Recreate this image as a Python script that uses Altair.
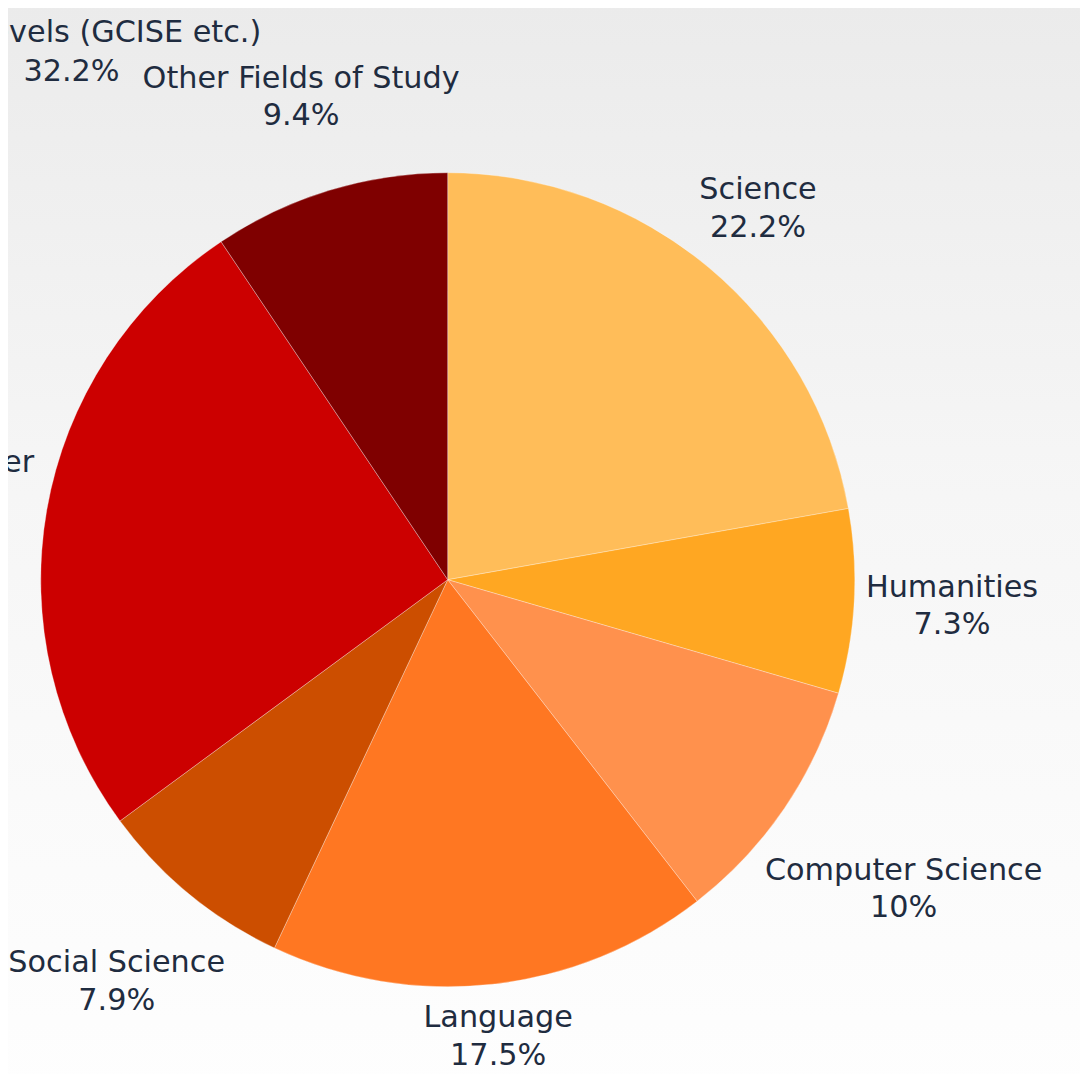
import altair as alt
import pandas as pd

# ---- data ----
categories = ["Science", "Humanities", "Computer Science", "Language",
              "Social Science", "Mathematics/Other", "Other Fields of Study"]
shares = [22.2, 7.3, 10, 17.5, 7.9, 25.7, 9.4]
colors = ["#FFBD59", "#FFA722", "#FF914D", "#FF7722", "#CC4E00", "#CC0000", "#7F0000"]
neighbour_label = ["Lower levels (GCISE etc.)", "32.2%"]

df = pd.DataFrame({
    "name": categories,
    "value": shares,
    "order": list(range(len(categories))),
    "pct": [f"{v:g}%" for v in shares],
})
df["label"] = df["name"] + "\n" + df["pct"]

TEXT = "#1F2C40"
FONT = "DejaVu Sans"
FS = 30.5
LH = 38

bg = alt.Chart(pd.DataFrame({"bg": [0]})).mark_rect(
    color=alt.Gradient(
        gradient="linear", x1=0, y1=0, x2=0, y2=1,
        stops=[alt.GradientStop(color="#EBEBEB", offset=0),
               alt.GradientStop(color="#F6F6F6", offset=0.45),
               alt.GradientStop(color="#FEFEFE", offset=1)],
    )
).encode(x=alt.value(0), x2=alt.value(1100), y=alt.value(0), y2=alt.value(1100))

base = alt.Chart(df)

pie = base.mark_arc(radius=410, stroke="#FFFFFF", strokeWidth=0.6, strokeOpacity=0.5).encode(
    theta=alt.Theta("value:Q", stack=True),
    color=alt.Color("name:N", scale=alt.Scale(domain=categories, range=colors), legend=None),
    order=alt.Order("order:Q"),
)

labels = (
    base.transform_joinaggregate(total="sum(value)")
    .transform_window(cum="sum(value)", sort=[alt.SortField("order")], frame=[None, 0])
    .transform_calculate(
        ang="2*PI*(datum.cum - datum.value/2)/datum.total",
        hw="max(length(datum.name), length(datum.pct)) * 8.7",
    )
    .transform_calculate(r="420 + datum.hw*abs(sin(datum.ang)) + 36*abs(cos(datum.ang))")
    .mark_text(fontSize=FS, font=FONT, color=TEXT, lineBreak="\n", lineHeight=LH,
               align="center", baseline="middle", dy=-LH / 2,
               radius=alt.ExprRef("datum.r"))
    .encode(
        theta=alt.Theta("value:Q", stack=True),
        detail="name:N",
        text="label:N",
        order=alt.Order("order:Q"),
    )
)

neighbour = alt.Chart(pd.DataFrame({"t": ["\n".join(neighbour_label)]})).mark_text(
    fontSize=FS, font=FONT, color=TEXT, lineBreak="\n", lineHeight=40,
    align="center", baseline="middle"
).encode(x=alt.value(72), y=alt.value(29), text="t:N")

chart = alt.layer(bg, pie, labels, neighbour).properties(
    width=902, height=1160,
    autosize=alt.AutoSizeParams(type="none"),
    padding={"left": -8, "top": -8, "right": 186, "bottom": -86},
    background="#F4F4F4",
).configure_view(stroke=None)

chart.save("out.html", embed_options={"renderer": "svg", "actions": False})
